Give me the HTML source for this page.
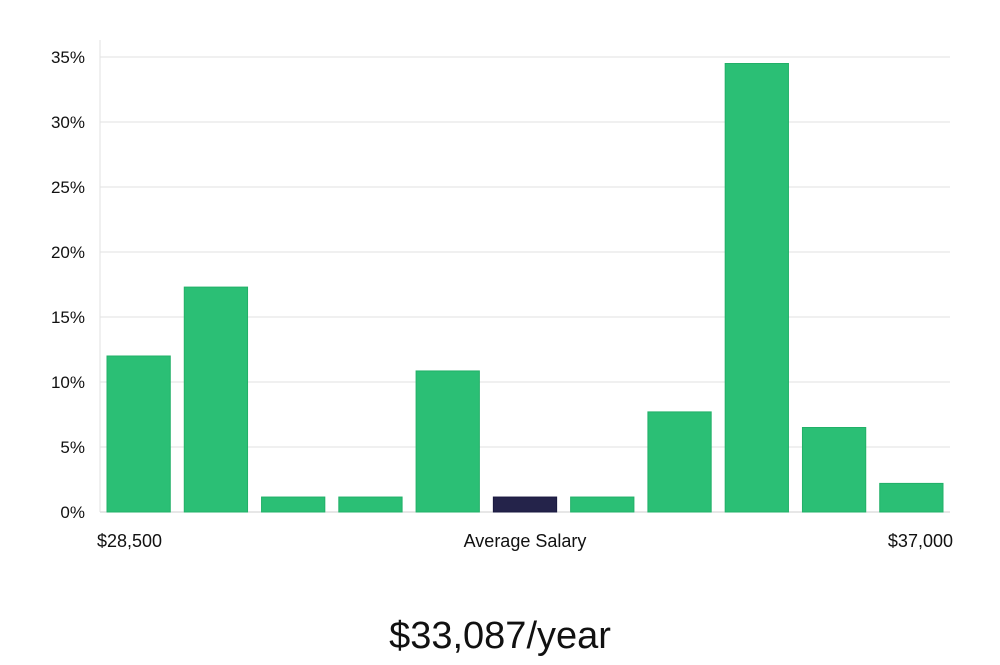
<!DOCTYPE html>
<html><head><meta charset="utf-8"><style>
body{margin:0;background:#fff;width:1000px;height:660px;overflow:hidden;font-family:"Liberation Sans","DejaVu Sans",sans-serif}
</style></head><body>
<svg id="chart" width="1000" height="660" xmlns="http://www.w3.org/2000/svg"></svg>
<script>
const categories=["b1","b2","b3","b4","b5","b6","b7","b8","b9","b10","b11"];
const values=[12.0,17.3,1.15,1.15,10.85,1.15,1.15,7.7,34.5,6.5,2.2];
const highlight=[false,false,false,false,false,true,false,false,false,false,false];
const yTicks=[0,5,10,15,20,25,30,35];
const yTickLabels=["0%","5%","10%","15%","20%","25%","30%","35%"];
const xLabels=["$28,500","Average Salary","$37,000"];
const caption="$33,087/year";
const NS="http://www.w3.org/2000/svg";
const svg=document.getElementById('chart');
const L=100,R=950,T=57,B=512,maxV=35;
const y=v=>B-(B-T)*v/maxV;
const band=(R-L)/categories.length;
const x=i=>L+i*band;
function mk(tag,attrs,parent){const e=document.createElementNS(NS,tag);for(const k in attrs)e.setAttribute(k,attrs[k]);(parent||svg).appendChild(e);return e;}
yTicks.forEach((t,i)=>{
  const g=mk('line',{x1:L,x2:R,y1:y(t),y2:y(t),stroke:t===0?'#cfcfcf':'#e2e2e2','stroke-width':1});
  
  
  const tx=mk('text',{x:85,y:y(t)+6,'text-anchor':'end','font-size':17,fill:'#111'});
  tx.textContent=yTickLabels[i];
  
  
});
const ax=mk('line',{x1:L,x2:L,y1:40,y2:B,stroke:'#e2e2e2'});


values.forEach((v,i)=>{
  const r=mk('rect',{x:x(i)+7,y:y(v),width:band-14,height:B-y(v),fill:highlight[i]?'#24234a':'#2bbf75',stroke:highlight[i]?'#1a1940':'#22b068','stroke-width':1});
  
  
});
const xl=[[97,'start'],[525,'middle'],[953,'end']];
xLabels.forEach((s,i)=>{
  const t=mk('text',{x:xl[i][0],y:547,'text-anchor':xl[i][1],'font-size':18,fill:'#111'});
  t.textContent=s;
  
  
});
const c=mk('text',{x:500,y:648,'text-anchor':'middle','font-size':38,fill:'#111'});
c.textContent=caption;


</script>
</body></html>
